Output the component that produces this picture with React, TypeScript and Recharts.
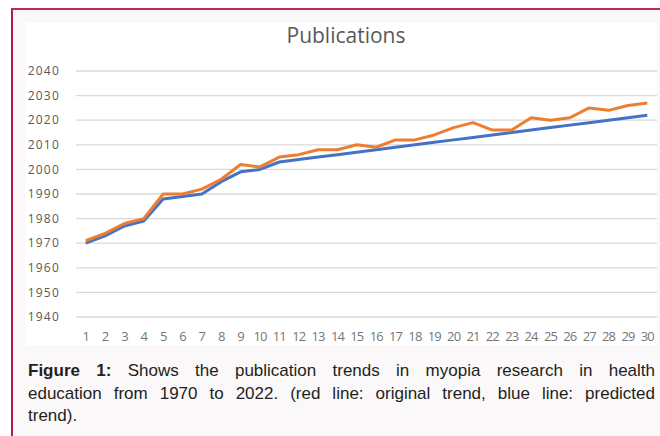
import { LineChart, Line, XAxis, YAxis, CartesianGrid } from "recharts";

// numeração dos períodos no eixo X
const periods = [
  1, 2, 3, 4, 5, 6, 7, 8, 9, 10, 11, 12, 13, 14, 15,
  16, 17, 18, 19, 20, 21, 22, 23, 24, 25, 26, 27, 28, 29, 30,
];

// linha laranja: tendência original
const original = [
  1971, 1974, 1978, 1980, 1990, 1990, 1992, 1996, 2002, 2001,
  2005, 2006, 2008, 2008, 2010, 2009, 2012, 2012, 2014, 2017,
  2019, 2016, 2016, 2021, 2020, 2021, 2025, 2024, 2026, 2027,
];

// linha azul: tendência prevista
const predicted = [
  1970, 1973, 1977, 1979, 1988, 1989, 1990, 1995, 1999, 2000,
  2003, 2004, 2005, 2006, 2007, 2008, 2009, 2010, 2011, 2012,
  2013, 2014, 2015, 2016, 2017, 2018, 2019, 2020, 2021, 2022,
];

const yTicks = [1940, 1950, 1960, 1970, 1980, 1990, 2000, 2010, 2020, 2030, 2040];

const chartData = periods.map((p, i) => ({
  period: p,
  original: original[i],
  predicted: predicted[i],
}));

const axisFont = "'Open Sans', sans-serif";

export default function App() {
  return (
    <div
      style={{
        position: "absolute",
        left: 0,
        top: 0,
        width: 660,
        height: 436,
        background: "#ffffff",
        overflow: "hidden",
      }}
    >
      {/* caixa da figura com borda */}
      <div
        style={{
          position: "absolute",
          left: 11,
          top: 8,
          width: 660,
          height: 440,
          borderTop: "2px solid #bf2a50",
          borderLeft: "2px solid #b01c44",
          background: "#faf8f9",
        }}
      />

      {/* área branca do gráfico */}
      <div
        style={{
          position: "absolute",
          left: 25,
          top: 23,
          width: 632,
          height: 322,
          background: "#ffffff",
        }}
      >
        <div
          style={{
            position: "absolute",
            left: 0,
            top: 0,
            width: 642,
            textAlign: "center",
            fontFamily: axisFont,
            fontSize: 21,
            color: "#595959",
            lineHeight: "24px",
          }}
        >
          Publications
        </div>
        <LineChart
          width={632}
          height={322}
          data={chartData}
          margin={{ top: 48, right: 0, bottom: 0, left: 0 }}
        >
          <CartesianGrid vertical={false} stroke="#d9d9d9" strokeWidth={1.3} />
          <XAxis
            dataKey="period"
            interval={0}
            axisLine={false}
            tickLine={false}
            tickSize={0}
            tickMargin={15}
            height={28}
            padding={{ left: 9.7, right: 9.7 }}
            tick={{ fill: "#767676", fontSize: 13, fontFamily: axisFont, letterSpacing: -0.9 }}
          />
          <YAxis
            domain={[1940, 2040]}
            ticks={yTicks}
            width={51}
            axisLine={false}
            tickLine={false}
            tickSize={0}
            tickMargin={16}
            tick={{ fill: "#595959", fontSize: 12, fontFamily: axisFont, letterSpacing: 1.2 }}
          />
          <Line
            type="linear"
            dataKey="predicted"
            stroke="#4472c4"
            strokeWidth={3}
            dot={false}
            strokeLinejoin="round"
            isAnimationActive={false}
          />
          <Line
            type="linear"
            dataKey="original"
            stroke="#ed7d31"
            strokeWidth={3}
            dot={false}
            strokeLinejoin="round"
            isAnimationActive={false}
          />
        </LineChart>
      </div>

      {/* legenda da figura */}
      <div
        style={{
          position: "absolute",
          left: 28,
          top: 360,
          width: 627,
          fontFamily: "'Liberation Sans', Arial, sans-serif",
          fontSize: 17,
          lineHeight: "22.5px",
          color: "#231f20",
        }}
      >
        <div style={{ textAlign: "justify", textAlignLast: "justify" }}>
          <b>Figure 1:</b> Shows the publication trends in myopia research in health
        </div>
        <div style={{ textAlign: "justify", textAlignLast: "justify" }}>
          education from 1970 to 2022. (red line: original trend, blue line: predicted
        </div>
        <div>trend).</div>
      </div>
    </div>
  );
}
